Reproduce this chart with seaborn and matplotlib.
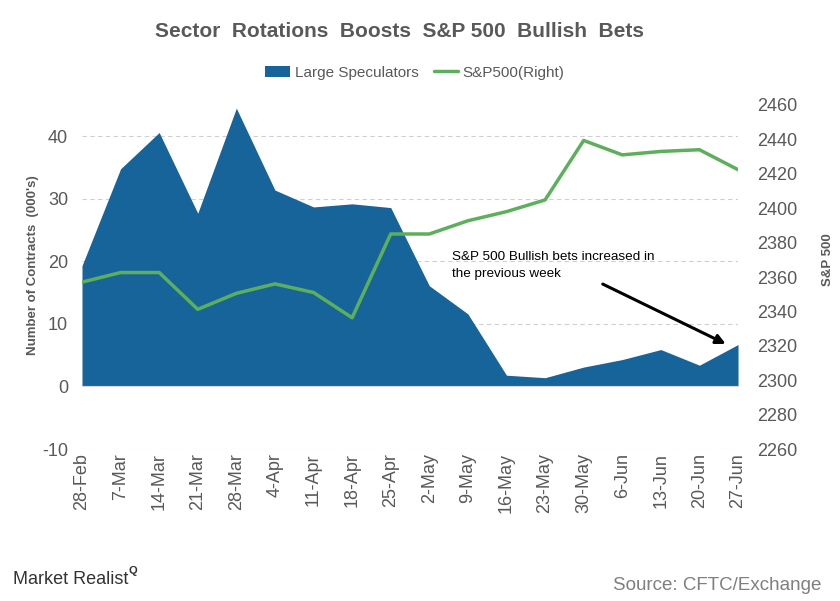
import matplotlib
matplotlib.use("Agg")
import matplotlib.pyplot as plt
import seaborn as sns
import pandas as pd
from matplotlib.patches import Patch
from matplotlib.lines import Line2D

dates = ['28-Feb', '7-Mar', '14-Mar', '21-Mar', '28-Mar', '4-Apr', '11-Apr', '18-Apr',
         '25-Apr', '2-May', '9-May', '16-May', '23-May', '30-May', '6-Jun', '13-Jun',
         '20-Jun', '27-Jun']
large_specs = [19.3, 34.8, 40.6, 27.7, 44.5, 31.4, 28.7, 29.2, 28.6, 16.1, 11.6, 1.8,
               1.4, 3.1, 4.3, 5.9, 3.4, 6.7]
sp500 = [2357, 2362.6, 2362.6, 2341.2, 2350.5, 2356, 2351, 2336.3, 2385, 2385, 2392.7,
         2398, 2404.8, 2439.4, 2431, 2433, 2434, 2422.4]
left_ticks = [-10, 0, 10, 20, 30, 40]
right_ticks = list(range(2260, 2461, 20))

df = pd.DataFrame({'date': dates, 'pos': range(len(dates)),
                   'specs': large_specs, 'sp': sp500})

sns.set_style("white")
plt.rcParams['font.family'] = ['Liberation Sans', 'DejaVu Sans']

blue = '#17649a'
green = '#5cb05c'
grey = '#595959'

fig = plt.figure(figsize=(8.4, 6.01), dpi=100)
fig.patch.set_facecolor('white')
ax = fig.add_axes([0.0976, 0.2529, 0.781, 0.5724])

# area for large speculators
ax.fill_between(df['pos'], df['specs'], 0, color=blue, linewidth=0, zorder=2)
ax.set_xlim(0, len(dates) - 1)
ax.set_ylim(-10, 45)
ax.set_yticks(left_ticks)
ax.set_yticklabels([str(t) for t in left_ticks], fontsize=13, color=grey)
ax.yaxis.grid(True, linestyle=(0, (4, 3)), color='#d0d0d0', linewidth=0.8, zorder=0)
ax.set_axisbelow(True)
for s in ['top', 'left', 'right']:
    ax.spines[s].set_visible(False)
ax.spines['bottom'].set_position(('data', 0))
ax.spines['bottom'].set_color('#d9d9d9')
ax.spines['bottom'].set_zorder(3)
ax.set_xticks(df['pos'])
ax.set_xticklabels(dates, rotation=90, fontsize=13, color=grey, va='top')
ax.tick_params(axis='x', length=4, color='#d9d9d9', pad=44)
ax.tick_params(axis='y', length=0, pad=10)
ax.set_ylabel("Number of Contracts  (000's)", fontsize=9.5, fontweight='bold', color=grey)
ax.yaxis.set_label_coords(-0.066, 0.535)
ax.set_xlabel('')

# S&P 500 on the right axis
ax2 = ax.twinx()
sns.lineplot(data=df, x='pos', y='sp', ax=ax2, color=green, linewidth=2.5, zorder=4)
ax2.set_ylim(2260, 2460)
ax2.set_yticks(right_ticks)
ax2.set_yticklabels([str(t) for t in right_ticks], fontsize=13, color=grey)
ax2.tick_params(axis='y', length=0, pad=14)
ax2.set_ylabel('S&P 500', fontsize=9.5, fontweight='bold', color=grey)
ax2.yaxis.set_label_coords(1.128, 0.55)
ax2.set_xlabel('')
for s in ax2.spines.values():
    s.set_visible(False)
ax2.grid(False)

fig.text(0.476, 0.947, 'Sector  Rotations  Boosts  S&P 500  Bullish  Bets', ha='center',
         va='center', fontsize=15, fontweight='bold', color=grey)

handles = [Patch(facecolor=blue, edgecolor='none'),
           Line2D([0], [0], color=green, linewidth=2.5)]
fig.legend(handles, ['Large Speculators', 'S&P500(Right)'], loc='center',
           bbox_to_anchor=(0.494, 0.879), ncol=2, frameon=False, fontsize=11,
           handlelength=1.6, handletextpad=0.3, columnspacing=1.0,
           labelcolor=grey)

ax.annotate('S&P 500 Bullish bets increased in\nthe previous week',
            xy=(0.985, 0.302), xytext=(0.564, 0.575), xycoords='axes fraction',
            textcoords='axes fraction', fontsize=9.7, color='black', va='top',
            linespacing=1.5, zorder=6)
ax.annotate('', xy=(0.985, 0.302), xytext=(0.79, 0.483), xycoords='axes fraction',
            textcoords='axes fraction',
            arrowprops=dict(arrowstyle='-|>', color='black', lw=2.2,
                            mutation_scale=14), zorder=6)

fig.text(0.015, 0.035, 'Market Realist', fontsize=13, color='#333333', ha='left',
         va='center')
fig.text(0.153, 0.05, 'Q', fontsize=8, color='#333333', fontweight='bold', ha='left',
         va='center')
fig.text(0.978, 0.026, 'Source: CFTC/Exchange', fontsize=13.5, color='#7f7f7f', ha='right',
         va='center')

plt.savefig('out.png', dpi=100, facecolor=fig.get_facecolor())
